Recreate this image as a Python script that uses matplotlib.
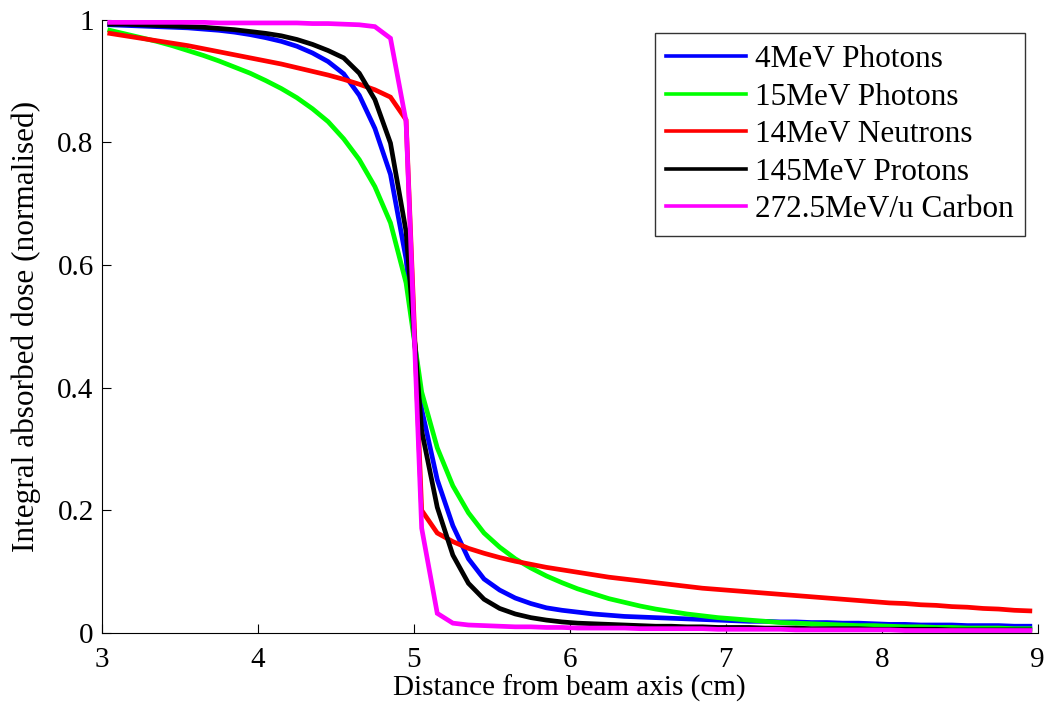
from matplotlib import pyplot as plt

# bin centres along the radial distance (cm)
distance = [3.05, 3.15, 3.25, 3.35, 3.45, 3.55, 3.65, 3.75, 3.85, 3.95,
            4.05, 4.15, 4.25, 4.35, 4.45, 4.55, 4.65, 4.75, 4.85, 4.95,
            5.05, 5.15, 5.25, 5.35, 5.45, 5.55, 5.65, 5.75, 5.85, 5.95,
            6.05, 6.15, 6.25, 6.35, 6.45, 6.55, 6.65, 6.75, 6.85, 6.95,
            7.05, 7.15, 7.25, 7.35, 7.45, 7.55, 7.65, 7.75, 7.85, 7.95,
            8.05, 8.15, 8.25, 8.35, 8.45, 8.55, 8.65, 8.75, 8.85, 8.95]

photons_4mev = [0.992, 0.991, 0.990, 0.989, 0.988, 0.987, 0.985, 0.983, 0.980, 0.976,
                0.971, 0.965, 0.957, 0.946, 0.932, 0.912, 0.877, 0.823, 0.748, 0.610,
                0.365, 0.250, 0.175, 0.121, 0.088, 0.070, 0.057, 0.048, 0.041, 0.037,
                0.034, 0.031, 0.029, 0.027, 0.026, 0.025, 0.024, 0.023, 0.022, 0.021,
                0.020, 0.019, 0.019, 0.018, 0.018, 0.017, 0.017, 0.016, 0.016, 0.015,
                0.014, 0.014, 0.013, 0.013, 0.013, 0.012, 0.012, 0.012, 0.011, 0.011]

photons_15mev = [0.983, 0.977, 0.971, 0.965, 0.958, 0.950, 0.942, 0.933, 0.923, 0.913,
                 0.901, 0.888, 0.873, 0.855, 0.834, 0.806, 0.772, 0.728, 0.669, 0.571,
                 0.393, 0.302, 0.240, 0.196, 0.163, 0.140, 0.121, 0.106, 0.093, 0.082,
                 0.072, 0.064, 0.056, 0.050, 0.044, 0.039, 0.035, 0.031, 0.028, 0.025,
                 0.023, 0.021, 0.019, 0.017, 0.016, 0.015, 0.014, 0.013, 0.012, 0.012,
                 0.011, 0.010, 0.010, 0.009, 0.009, 0.008, 0.008, 0.008, 0.007, 0.007]

neutrons_14mev = [0.978, 0.974, 0.970, 0.966, 0.962, 0.958, 0.953, 0.948, 0.943, 0.938,
                  0.933, 0.928, 0.922, 0.916, 0.910, 0.903, 0.895, 0.886, 0.874, 0.837,
                  0.200, 0.163, 0.149, 0.138, 0.130, 0.123, 0.117, 0.112, 0.107, 0.103,
                  0.099, 0.095, 0.091, 0.088, 0.085, 0.082, 0.079, 0.076, 0.073, 0.071,
                  0.069, 0.067, 0.065, 0.063, 0.061, 0.059, 0.057, 0.055, 0.053, 0.051,
                  0.049, 0.048, 0.046, 0.045, 0.043, 0.042, 0.040, 0.039, 0.037, 0.036]

protons_145mev = [0.993, 0.993, 0.992, 0.991, 0.990, 0.989, 0.988, 0.986, 0.984, 0.981,
                  0.978, 0.974, 0.968, 0.960, 0.950, 0.938, 0.913, 0.870, 0.799, 0.655,
                  0.330, 0.205, 0.127, 0.081, 0.055, 0.040, 0.031, 0.025, 0.021, 0.018,
                  0.016, 0.015, 0.014, 0.013, 0.012, 0.011, 0.011, 0.010, 0.010, 0.009,
                  0.009, 0.009, 0.008, 0.008, 0.008, 0.007, 0.007, 0.007, 0.007, 0.006,
                  0.006, 0.006, 0.006, 0.006, 0.005, 0.005, 0.005, 0.005, 0.005, 0.005]

carbon_272mev = [0.996, 0.996, 0.996, 0.996, 0.996, 0.996, 0.996, 0.995, 0.995, 0.995,
                 0.995, 0.995, 0.995, 0.994, 0.994, 0.993, 0.992, 0.989, 0.970, 0.834,
                 0.171, 0.032, 0.016, 0.013, 0.012, 0.011, 0.010, 0.010, 0.009, 0.009,
                 0.008, 0.008, 0.008, 0.008, 0.007, 0.007, 0.007, 0.007, 0.007, 0.006,
                 0.006, 0.006, 0.006, 0.006, 0.005, 0.005, 0.005, 0.005, 0.005, 0.005,
                 0.005, 0.004, 0.004, 0.004, 0.004, 0.004, 0.004, 0.004, 0.004, 0.004]

labels = ['4MeV Photons', '15MeV Photons', '14MeV Neutrons',
          '145MeV Protons', '272.5MeV/u Carbon']
colors = ['#0000ff', '#00ff00', '#ff0000', '#000000', '#ff00ff']

plt.rcParams['font.family'] = ['Liberation Serif', 'DejaVu Serif']

fig = plt.figure(figsize=(10.46, 7.10), dpi=100)
ax = fig.add_axes([0.0975, 0.1085, 0.8945, 0.8635])

series = [photons_4mev, photons_15mev, neutrons_14mev, protons_145mev, carbon_272mev]
for ys, lab, c in zip(series, labels, colors):
    ax.plot(distance, ys, color=c, lw=3.4, label=lab, solid_joinstyle='miter')

ax.set_xlim(3, 9)
ax.set_ylim(0, 1)
ax.set_xticks([3, 4, 5, 6, 7, 8, 9])
ax.set_yticks([0, 0.2, 0.4, 0.6, 0.8, 1])
ax.set_yticklabels(['0', '0.2', '0.4', '0.6', '0.8', '1'])
ax.tick_params(direction='in', length=6.5, width=0.8, labelsize=21)
ax.tick_params(axis='x', pad=10)
ax.tick_params(axis='y', pad=6)
ax.spines['top'].set_visible(False)
ax.spines['right'].set_visible(False)
for s in ('left', 'bottom'):
    ax.spines[s].set_linewidth(0.8)

ax.set_xlabel('Distance from beam axis (cm)', fontsize=21, labelpad=1)
ax.set_ylabel('Integral absorbed dose (normalised)', fontsize=22.5, labelpad=12)

leg = ax.legend(loc='upper right', bbox_to_anchor=(0.987, 0.978), borderaxespad=0,
                fontsize=22.5, frameon=True, fancybox=False, handlelength=2.55,
                labelspacing=0.27, handletextpad=0.28, borderpad=0.38)
leg.get_frame().set_edgecolor('black')
leg.get_frame().set_linewidth(1.0)
for ln in leg.get_lines():
    ln.set_linewidth(2.6)

fig.savefig('out.png', dpi=100)
